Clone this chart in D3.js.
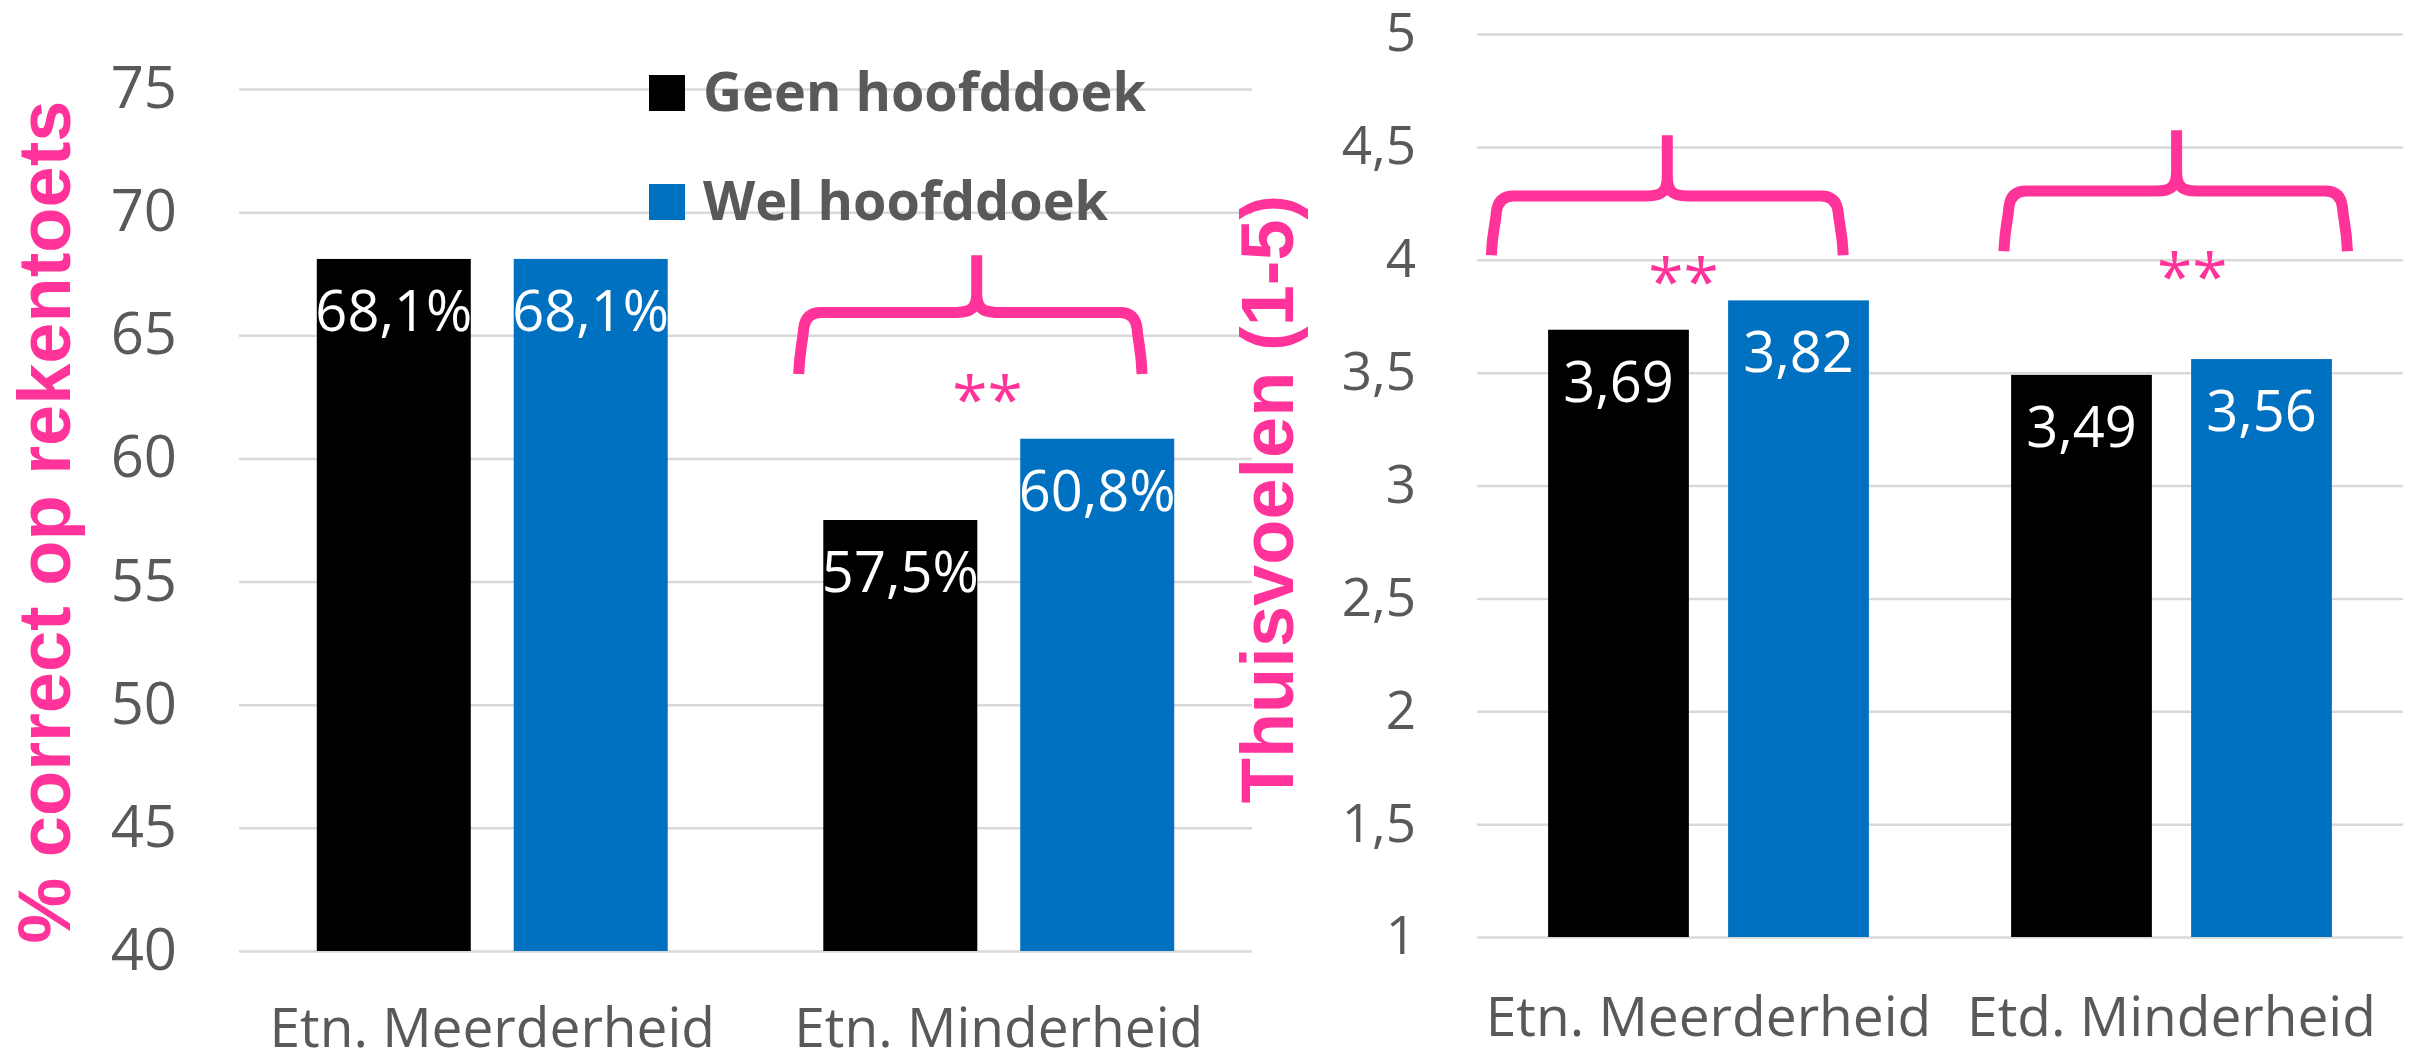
<!DOCTYPE html>
<html>
<head>
<meta charset="utf-8">
<script src="https://cdn.jsdelivr.net/npm/d3@7/dist/d3.min.js"></script>
<style>
  body { margin: 0; background: #fff; }
  text { font-family: "Open Sans", sans-serif; }
</style>
</head>
<body>
<div id="chart"></div>
<script>
// chart values
var groupsLeft = ["Etn. Meerderheid", "Etn. Minderheid"];
var groupsRight = ["Etn. Meerderheid", "Etd. Minderheid"];
var seriesNames = ["Geen hoofddoek", "Wel hoofddoek"];
var rekentoetsGeen = [68.1, 57.5];
var rekentoetsWel = [68.1, 60.8];
var thuisGeen = [3.69, 3.49];
var thuisWel = [3.82, 3.56];
var ticksLeft = [40, 45, 50, 55, 60, 65, 70, 75];
var ticksRight = [1, 1.5, 2, 2.5, 3, 3.5, 4, 4.5, 5];
var titleLeft = "% correct op rekentoets";
var titleRight = "Thuisvoelen (1-5)";
var signifText = "**";

var colors = ["#000000", "#0070C0"];
var pink = "#FF3399";
var grey = "#595959";
var gridColor = "#D9D9D9";

// dutch number format: comma as decimal mark
var nl = d3.formatLocale({decimal: ",", thousands: ".", grouping: [3], currency: ["€", ""]});

var svg = d3.select("#chart")
  .append("svg")
    .attr("width", 2417)
    .attr("height", 1059);

// draws one grouped bar panel and returns its scales
function drawPanel(p) {
  var x0 = d3.scaleBand().domain(p.groups).range([p.left, p.right]).padding(0);
  var x1 = d3.scaleBand().domain(seriesNames).range([0, x0.bandwidth()])
      .paddingInner(0.218).paddingOuter(0.395);
  var y = d3.scaleLinear().domain(p.domain).range([p.bottom, p.top]);

  // gridlines + tick labels
  var yAxis = svg.append("g")
      .attr("transform", `translate(${p.left},0)`)
      .call(d3.axisLeft(y).tickValues(p.ticks).tickSize(-(p.right - p.left))
            .tickPadding(p.tickPad).tickFormat(nl.format(".1~f")));
  yAxis.select(".domain").remove();
  yAxis.selectAll("line").attr("stroke", gridColor).attr("stroke-width", 2.5);
  yAxis.selectAll("text")
      .attr("fill", grey)
      .style("font-size", p.tickSize + "px")
      .style("font-family", "Open Sans");

  // category labels
  var xAxis = svg.append("g")
      .attr("transform", `translate(0,${p.bottom})`)
      .call(d3.axisBottom(x0).tickSize(0).tickPadding(p.xPad));
  xAxis.select(".domain").remove();
  xAxis.selectAll("text")
      .attr("fill", grey)
      .style("font-size", "55px")
      .style("font-family", "Open Sans");

  var rows = p.groups.map(function(g, i) {
    return seriesNames.map(function(s, j) {
      return {group: g, series: s, value: p.values[j][i], color: colors[j]};
    });
  });

  var grp = svg.append("g").selectAll("g")
      .data(rows)
      .join("g")
      .attr("transform", function(d) { return `translate(${x0(d[0].group)},0)`; });

  grp.selectAll("rect")
      .data(function(d) { return d; })
      .join("rect")
      .attr("x", function(d) { return x1(d.series); })
      .attr("width", x1.bandwidth())
      .attr("y", function(d) { return y(d.value); })
      .attr("height", function(d) { return y(p.domain[0]) - y(d.value); })
      .attr("fill", function(d) { return d.color; });

  grp.selectAll("text")
      .data(function(d) { return d; })
      .join("text")
      .attr("x", function(d) { return x1(d.series) + x1.bandwidth() / 2; })
      .attr("y", function(d) { return y(d.value) + 72; })
      .attr("text-anchor", "middle")
      .attr("fill", "#fff")
      .style("font-size", "56px")
      .text(function(d) { return p.labelFormat(d.value); });

  // rotated axis title
  svg.append("text")
      .attr("transform", `translate(${p.titleX},${p.titleY}) rotate(-90)`)
      .attr("text-anchor", "middle")
      .attr("fill", pink)
      .style("font-family", "Liberation Sans")
      .style("font-weight", "bold")
      .style("font-size", "74px")
      .text(p.title);

  return {x0: x0, y: y};
}

// curly bracket over a group with significance stars
function drawBracket(sc, group, f0, fm, f1, vBottom, vMid, vTop, fStar, vStar) {
  var bx = sc.x0(group), bw = sc.x0.bandwidth();
  var xa = bx + f0 * bw, xm = bx + fm * bw, xb = bx + f1 * bw;
  var yb = sc.y(vBottom), yh = sc.y(vMid), yt = sc.y(vTop);
  var half = function(xe, dir) {
    return `M${xe},${yb} C${xe + dir * 1},${yb - 25} ${xe + dir * 4},${yh + 30} ${xe + dir * 5},${yh + 16}`
      + ` Q${xe + dir * 7},${yh} ${xe + dir * 22},${yh}`
      + ` L${xm - dir * 20},${yh} C${xm - dir * 5},${yh} ${xm},${yh - 5} ${xm},${yh - 20} L${xm},${yt}`;
  };
  svg.append("path")
      .attr("d", half(xa, 1) + " " + half(xb, -1))
      .attr("fill", "none")
      .attr("stroke", pink)
      .attr("stroke-width", 11);
  svg.append("text")
      .attr("x", bx + fStar * bw)
      .attr("y", sc.y(vStar))
      .attr("text-anchor", "middle")
      .attr("fill", pink)
      .style("font-size", "64px")
      .text(signifText);
}

var left = drawPanel({
  groups: groupsLeft, values: [rekentoetsGeen, rekentoetsWel],
  left: 239, right: 1252, top: 89, bottom: 951,
  domain: [40, 75], ticks: ticksLeft, tickPad: 62, tickSize: 58, xPad: 57,
  labelFormat: function(v) { return nl.format(".1f")(v) + "%"; },
  title: titleLeft, titleX: 70, titleY: 522
});

var right = drawPanel({
  groups: groupsRight, values: [thuisGeen, thuisWel],
  left: 1477, right: 2403, top: 34, bottom: 937,
  domain: [1, 5], ticks: ticksRight, tickPad: 61, tickSize: 53, xPad: 60,
  labelFormat: nl.format(".2f"),
  title: titleRight, titleX: 1293, titleY: 499
});

drawBracket(left, groupsLeft[1], 0.105, 0.4565, 0.783, 63.43, 65.93, 68.25, 0.478, 61.44);
drawBracket(right, groupsRight[0], 0.031, 0.411, 0.791, 4.02, 4.282, 4.552, 0.446, 3.80);
drawBracket(right, groupsRight[1], 0.138, 0.511, 0.88, 4.038, 4.304, 4.574, 0.545, 3.82);

// legend
var legend = svg.append("g")
    .selectAll("g")
    .data(seriesNames)
    .join("g")
    .attr("transform", function(d, i) { return `translate(649,${75 + i * 109})`; });

legend.append("rect")
    .attr("width", 36)
    .attr("height", 36)
    .attr("fill", function(d, i) { return colors[i]; });

legend.append("text")
    .attr("x", 54)
    .attr("y", 36)
    .attr("fill", grey)
    .style("font-size", "54px")
    .style("font-weight", "bold")
    .text(function(d) { return d; });
</script>
</body>
</html>
